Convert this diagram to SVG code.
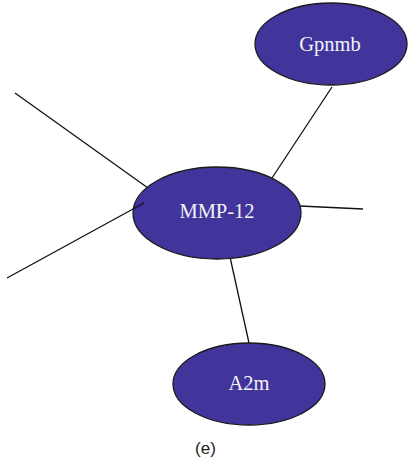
<svg xmlns="http://www.w3.org/2000/svg" width="411" height="466" viewBox="0 0 411 466">
  <style>
    .edge { stroke: #111; stroke-width: 1.3; fill: none; }
    .node ellipse { fill: #41349a; stroke: #1a1a1a; stroke-width: 1.3; }
    .node text { fill: #f2f2f8; font-family: "Liberation Serif", "Times New Roman", serif; font-size: 20.5px; text-anchor: middle; }
    .caption { fill: #222; font-family: "Liberation Sans", Arial, sans-serif; font-size: 17px; text-anchor: middle; }
  </style>
  <rect width="411" height="466" fill="#ffffff"/>
  <g id="edges">
    <line class="edge" x1="15" y1="93" x2="148" y2="188"/>
    <line class="edge" x1="332" y1="87" x2="272" y2="178"/>
    <line class="edge" x1="300" y1="206" x2="363" y2="209"/>
    <line class="edge" x1="230" y1="257" x2="249" y2="343"/>
  </g>
  <g id="node-gpnmb" class="node">
    <ellipse cx="331" cy="44" rx="76" ry="41"/>
    <text x="330" y="51">Gpnmb</text>
  </g>
  <g id="node-mmp12" class="node">
    <ellipse cx="217" cy="213" rx="84" ry="46"/>
    <text x="217" y="218">MMP-12</text>
  </g>
  <g id="node-a2m" class="node">
    <ellipse cx="249" cy="384" rx="76" ry="41"/>
    <text x="249" y="390">A2m</text>
  </g>
  <g id="edges-over">
    <line class="edge" x1="7" y1="278" x2="144" y2="203"/>
  </g>
  <text class="caption" x="205.5" y="454">(e)</text>
</svg>
